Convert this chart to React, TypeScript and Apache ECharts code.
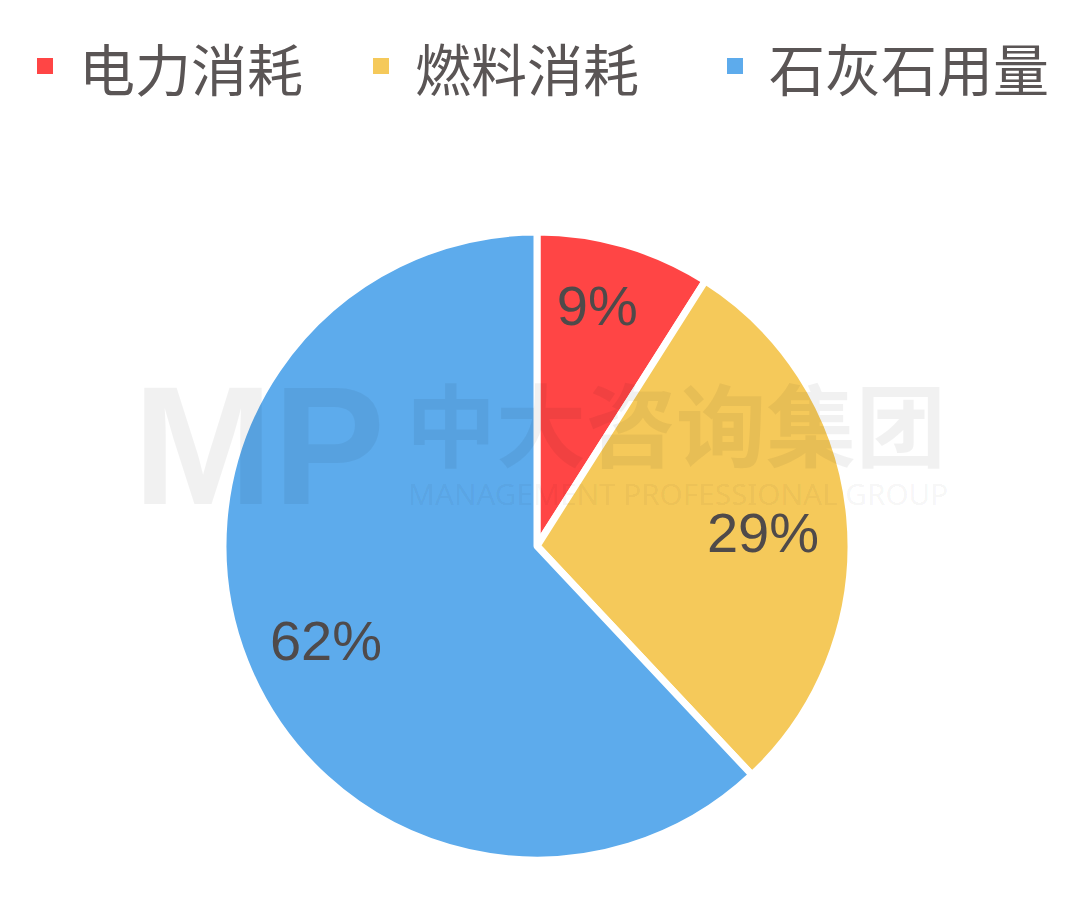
import React, { useEffect, useRef } from "react";
import * as echarts from "echarts";

const categories = ["电力消耗", "燃料消耗", "石灰石用量"];
const values = [9, 29, 62];
const colors = ["#FF4545", "#F5C95A", "#5DABEC"];
const legendLefts = [30, 366, 720];
const labelOffsets = [[-3, -23], [0, 8], [0, 11]];

export default function App() {
  const ref = useRef<HTMLDivElement>(null);
  useEffect(() => {
    if (!ref.current) return;
    const chart = echarts.init(ref.current, undefined, { renderer: "svg" });
    const data = categories.map((name, i) => ({
      name,
      value: values[i],
      itemStyle: { color: colors[i] },
    }));
    chart.setOption({
      animation: false,
      backgroundColor: "#ffffff",
      legend: categories.map((name, i) => ({
        data: [name],
        left: legendLefts[i],
        top: 32,
        icon: "rect",
        itemWidth: 18,
        itemHeight: 18,
        selectedMode: false,
        textStyle: {
          fontSize: 56,
          lineHeight: 58,
          fontFamily: "Noto Sans CJK SC",
          color: "#5a5555",
          padding: [0, 0, 0, 20],
        },
      })),
      series: [
        {
          type: "pie",
          center: [537, 546],
          radius: [0, 314],
          startAngle: 90,
          clockwise: true,
          silent: true,
          label: { show: false },
          labelLine: { show: false },
          itemStyle: { borderColor: "#ffffff", borderWidth: 7 },
          data,
        },
        {
          type: "pie",
          center: [537, 546],
          radius: [134, 314],
          startAngle: 90,
          clockwise: true,
          silent: true,
          legendHoverLink: false,
          itemStyle: { color: "transparent", borderWidth: 0 },
          label: {
            show: true,
            position: "inside",
            formatter: "{c}%",
            fontSize: 56,
            fontFamily: "Liberation Sans, Arial, sans-serif",
            color: "#4f4a4a",
          },
          labelLine: { show: false },
          data: categories.map((name, i) => ({
            name,
            value: values[i],
            label: { offset: labelOffsets[i] },
          })),
        },
      ],
      graphic: [
        {
          type: "text",
          left: 133,
          top: 362,
          z: 100,
          silent: true,
          style: {
            text: "MP",
            fontSize: 168,
            fontWeight: "bold",
            fontFamily: "Liberation Sans, Arial, sans-serif",
            fill: "rgba(0,0,0,0.055)",
          },
        },
        {
          type: "text",
          left: 406,
          top: 376,
          z: 100,
          silent: true,
          style: {
            text: "中大咨询集团",
            fontSize: 90,
            fontWeight: "bold",
            fontFamily: "Noto Sans CJK SC",
            fill: "rgba(0,0,0,0.055)",
          },
        },
        {
          type: "text",
          left: 408,
          top: 478,
          z: 100,
          silent: true,
          style: {
            text: "MANAGEMENT PROFESSIONAL GROUP",
            fontSize: 29.7,
            fontFamily: "Noto Sans, sans-serif",
            fill: "rgba(0,0,0,0.055)",
          },
        },
      ],
    });
    return () => chart.dispose();
  }, []);
  return (
    <div
      ref={ref}
      style={{ position: "absolute", left: 0, top: 0, width: 1080, height: 898 }}
    />
  );
}
